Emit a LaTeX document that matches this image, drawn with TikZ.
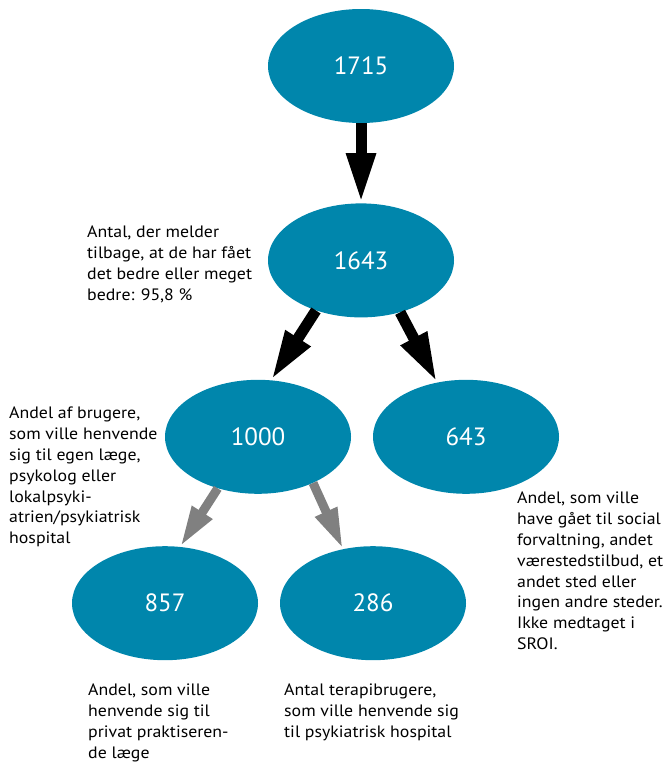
\documentclass[tikz,border=0pt]{standalone}
\usepackage{fontspec}
\setmainfont[FakeStretch=1.08]{PT Sans}
\newfontfamily\countfont{PT Sans}
\usetikzlibrary{positioning,arrows.meta,shapes.geometric}

\definecolor{petrol}{RGB}{0,134,172}
\definecolor{arrowgrey}{RGB}{128,128,128}

\begin{document}
\begin{tikzpicture}[
        count/.style={ellipse, fill=petrol, text=white, minimum width=186pt, minimum height=114pt, inner sep=0pt, font=\countfont\fontsize{25}{30}\selectfont},
        note/.style={anchor=north west, align=left, inner sep=0pt, font=\fontsize{16.5}{20.8}\selectfont},
        mainflow/.style={draw=black, line width=11pt, -{Triangle[length=50pt,width=27pt]}},
        subflow/.style={draw=arrowgrey, line width=9pt, -{Triangle[length=41pt,width=22pt]}},
    ]
    \useasboundingbox (0pt,0pt) rectangle (667pt,-763pt);

    \node[count] (n1715) at (361pt,-66pt) {1715};
    \node[count] (n1643) [below=80pt of n1715] {1643};
    \node[count] (n1000) [below=62pt of n1643, xshift=-103pt] {1000};
    \node[count] (n643) [below=62pt of n1643, xshift=105pt] {643};
    \node[count] (n857) [below=52pt of n1000, xshift=-93pt] {857};
    \node[count] (n286) [below=52pt of n1000, xshift=115pt] {286};

    \node[note] (t1643) at (87pt,-226pt) {Antal, der melder\\tilbage, at de har fået\\det bedre eller meget\\bedre: 95,8 \%};
    \node[note] (t1000) at (9pt,-407pt) {Andel af brugere,\\som ville henvende\\sig til egen læge,\\psykolog eller\\lokalpsyki-\\atrien/psykiatrisk\\hospital};
    \node[note] (t643) at (517pt,-492pt) {Andel, som ville\\have gået til social\\forvaltning, andet\\værestedstilbud, et\\andet sted eller\\ingen andre steder.\\Ikke medtaget i\\SROI.};
    \node[note] (t857) at (88pt,-684pt) {Andel, som ville\\henvende sig til\\privat praktiseren-\\de læge};
    \node[note] (t286) at (284pt,-684pt) {Antal terapibrugere,\\som ville henvende sig\\til psykiatrisk hospital};

    \path[mainflow] (n1715.south) -- (n1643.north);
    \path[mainflow] (n1643.228) -- (n1000.77);
    \path[mainflow] (n1643.307) -- (n643.118);
    \path[subflow] (n1000.232) -- (n857.75);
    \path[subflow] (n1000.320) -- (n286.119);
\end{tikzpicture}
\end{document}
